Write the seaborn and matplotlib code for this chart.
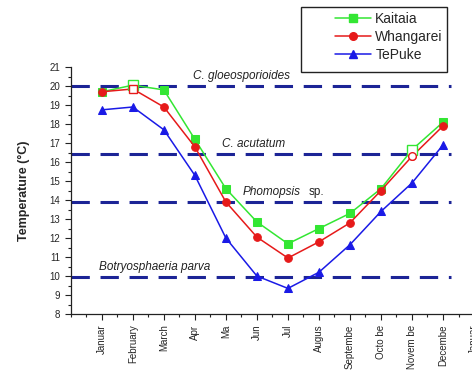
import matplotlib
matplotlib.use("Agg")
import matplotlib.pyplot as plt
from matplotlib.ticker import MultipleLocator
from matplotlib.patches import Rectangle
import seaborn as sns
import pandas as pd

sns.set_theme(style="white")
plt.rcParams["font.family"] = ["Liberation Sans", "DejaVu Sans"]

months = ["Januar", "February", "March", "Apr", "Ma", "Jun", "Jul", "Augus",
          "Septembe", "Octo be", "Novem be", "Decembe", "Januar"]
kaitaia = [19.7, 20.05, 19.8, 17.2, 14.6, 12.85, 11.7, 12.5, 13.3, 14.6, 16.65, 18.1]
whangarei = [19.7, 19.85, 18.9, 16.8, 13.9, 12.05, 10.95, 11.8, 12.8, 14.5, 16.3, 17.9]
tepuke = [18.75, 18.9, 17.7, 15.3, 12.0, 10.0, 9.35, 10.2, 11.65, 13.4, 14.9, 16.9]
hollow_idx = [1, 10]

thresholds = [20.0, 16.45, 13.9, 9.95]

series = {"Kaitaia": kaitaia, "Whangarei": whangarei, "TePuke": tepuke}
colors = {"Kaitaia": "#33e633", "Whangarei": "#e61a1a", "TePuke": "#1a1ae6"}
markers = {"Kaitaia": "s", "Whangarei": "o", "TePuke": "^"}

rows = []
for name, vals in series.items():
    for i, v in enumerate(vals):
        rows.append({"month": i + 1, "temp": v, "site": name})
df = pd.DataFrame(rows)

fig = plt.figure(figsize=(4.72, 3.77), dpi=100)
ax = fig.add_axes([0.150, 0.167, 0.92, 0.655])

# threshold temperatures for each pathogen
for t in thresholds:
    ax.plot([0, 12.25], [t, t], color="#1c2496", lw=2.2, dashes=(6, 3.5), zorder=1)

for name in ["TePuke", "Kaitaia", "Whangarei"]:
    sub = df[df["site"] == name]
    sns.lineplot(data=sub, x="month", y="temp", ax=ax, color=colors[name],
                 marker=markers[name], markersize=5.5, markeredgecolor=colors[name],
                 lw=1.1, legend=False, zorder=3)

# open markers for the hollow points
hollow_shapes = {"Kaitaia": ["s", "s"], "Whangarei": ["s", "o"]}
for name, shapes in hollow_shapes.items():
    vals = series[name]
    for i, m in zip(hollow_idx, shapes):
        ax.plot([i + 1], [vals[i]], ls="none", marker=m,
                markersize=6.5 if name == "Kaitaia" else 5.5,
                mfc="white", mec=colors[name], mew=1.0, zorder=4)

txt = dict(fontsize=8.5, color="#222222", style="italic")
ax.text(5.5, 20.2, "C. gloeosporioides", ha="center", va="bottom", **txt)
ax.text(5.9, 16.65, "C. acutatum", ha="center", va="bottom", **txt)
ax.text(5.55, 14.1, "Phomopsis", ha="left", va="bottom", **txt)
ax.text(7.67, 14.1, "sp.", ha="left", va="bottom", fontsize=8.5, color="#222222")
ax.text(0.9, 10.15, "Botryosphaeria parva", ha="left", va="bottom", **txt)

ax.set_xlim(0, 14)
ax.set_ylim(8, 21)
ax.set_xticks(range(1, 14))
ax.set_xticklabels(months, rotation=90, fontsize=7)
ax.xaxis.set_minor_locator(MultipleLocator(0.5))
ax.set_yticks(range(8, 22))
ax.yaxis.set_minor_locator(MultipleLocator(0.5))
ax.tick_params(axis="y", labelsize=7)
ax.tick_params(which="both", direction="out", color="#222222", width=0.8,
               bottom=True, left=True)
ax.tick_params(which="major", length=4)
ax.tick_params(which="minor", length=2.5)
ax.set_xlabel("")
ax.set_ylabel("Temperature (°C)", fontsize=9, fontweight="bold", labelpad=14)
for s in ["top", "right"]:
    ax.spines[s].set_visible(False)
for s in ["left", "bottom"]:
    ax.spines[s].set_color("#222222")
    ax.spines[s].set_linewidth(0.9)

# legend box
W, H = 472, 377
fig.patches.append(Rectangle((301 / W, 1 - 72 / H), 146 / W, 65 / H,
                             transform=fig.transFigure, fill=False,
                             edgecolor="#222222", lw=1.0))
handles = [plt.Line2D([], [], color=colors[n], marker=markers[n], markersize=5.5, lw=1.1)
           for n in ["Kaitaia", "Whangarei", "TePuke"]]
fig.legend(handles, ["Kaitaia", "Whangarei", "TePuke"], loc="upper left",
           bbox_to_anchor=(335 / W, 1 - 12 / H), frameon=False,
           fontsize=10, borderpad=0, handlelength=2.6, handletextpad=0.3,
           labelspacing=0.3, borderaxespad=0)

fig.savefig("out.png", dpi=100)
